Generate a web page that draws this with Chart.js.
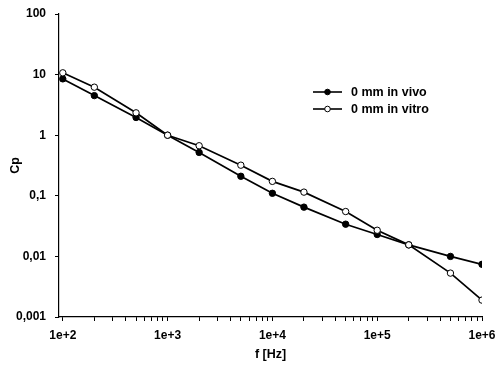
<!DOCTYPE html>
<html>
<head>
<meta charset="utf-8">
<script src="https://cdn.jsdelivr.net/npm/chart.js@4/dist/chart.umd.min.js"></script>
<style>
html,body{margin:0;padding:0;background:#fff;}
#wrap{width:497px;height:366px;position:relative;}
</style>
</head>
<body>
<div id="wrap"><canvas id="c" width="497" height="366"></canvas></div>
<script>
const frequencies = [100, 200, 500, 1000, 2000, 5000, 10000, 20000, 50000, 100000, 200000, 500000, 1000000];
const inVivo  = [8.5, 4.5, 1.96, 1.0, 0.52, 0.21, 0.11, 0.065, 0.034, 0.023, 0.0155, 0.010, 0.0074];
const inVitro = [10.7, 6.2, 2.34, 1.0, 0.67, 0.32, 0.173, 0.115, 0.055, 0.027, 0.0155, 0.0053, 0.0019];
const seriesNames = ['0 mm in vivo', '0 mm in vitro'];
const yTickValues = [0.001, 0.01, 0.1, 1, 10, 100];
const yTickLabels = ['0,001', '0,01', '0,1', '1', '10', '100'];
const xDecades = [100, 1000, 10000, 100000, 1000000];
const xTickLabels = ['1e+2', '1e+3', '1e+4', '1e+5', '1e+6'];

const FONT = '"Liberation Sans", Arial, sans-serif';

function pts(ys){ return frequencies.map((f,i)=>({x:f, y:ys[i]})); }

const xTickValues = [];
xDecades.forEach((d,i)=>{
  if (i === xDecades.length-1) { xTickValues.push(d); return; }
  for (let s=1;s<=9;s++) xTickValues.push(d*s);
});

const legendPlugin = {
  id: 'insideLegend',
  afterDatasetsDraw(chart){
    const ctx = chart.ctx;
    const items = chart.data.datasets;
    const x0 = 313, x1 = 342, tx = 351;
    const ys = [92, 109];
    ctx.save();
    items.forEach((ds) => {
      const y = ys[ds._legendIndex];
      ctx.strokeStyle = '#000';
      ctx.lineWidth = 1.6;
      ctx.beginPath(); ctx.moveTo(x0, y); ctx.lineTo(x1, y); ctx.stroke();
      ctx.beginPath(); ctx.arc((x0+x1)/2, y, 2.8, 0, Math.PI*2);
      ctx.fillStyle = ds.pointBackgroundColor; ctx.fill();
      ctx.lineWidth = 1; ctx.stroke();
      ctx.fillStyle = '#000';
      ctx.font = 'bold 12.5px ' + FONT;
      ctx.textBaseline = 'middle';
      ctx.textAlign = 'left';
      ctx.fillText(ds.label, tx, y + 0.5);
    });
    ctx.restore();
  }
};

new Chart(document.getElementById('c'), {
  type: 'line',
  data: {
    datasets: [
      {
        label: seriesNames[1], _legendIndex: 1, data: pts(inVitro), order: 1,
        borderColor: '#000', borderWidth: 1.7, pointRadius: 3.2, pointBorderWidth: 1,
        pointBackgroundColor: '#fff', pointBorderColor: '#000', tension: 0
      },
      {
        label: seriesNames[0], _legendIndex: 0, data: pts(inVivo), order: 2,
        borderColor: '#000', borderWidth: 1.7, pointRadius: 3.2, pointBorderWidth: 1,
        pointBackgroundColor: '#000', pointBorderColor: '#000', tension: 0
      }
    ]
  },
  options: {
    responsive: false,
    animation: false,
    devicePixelRatio: 1,
    layout: { padding: { left: 0, right: 15, top: 14, bottom: 0 } },
    plugins: { legend: { display: false }, tooltip: { enabled: false } },
    scales: {
      x: {
        type: 'logarithmic',
        min: 92, max: 1000000,
        afterBuildTicks(scale){ scale.ticks = xTickValues.map(v=>({value:v})); },
        afterFit(scale){ scale.height = 49; scale.paddingLeft = 0; scale.paddingRight = 0; },
        border: { display: true, color: '#000', width: 1.2 },
        grid: {
          display: true, drawOnChartArea: false, drawTicks: true,
          tickLength: 4, tickWidth: 1, tickColor: '#000'
        },
        ticks: {
          autoSkip: false, maxRotation: 0, padding: 7,
          color: '#000', font: { family: FONT, size: 12, weight: 'bold' },
          callback(v){ const i = xDecades.indexOf(v); return i >= 0 ? xTickLabels[i] : ''; }
        },
        title: { display: true, text: 'f [Hz]', color: '#000', font: { family: FONT, size: 12.5, weight: 'bold' }, padding: { top: 0, bottom: 4 } }
      },
      y: {
        type: 'logarithmic',
        min: 0.001, max: 100,
        afterBuildTicks(scale){ scale.ticks = yTickValues.map(v=>({value:v})); },
        afterFit(scale){ scale.width = 59; scale.paddingTop = 0; scale.paddingBottom = 0; },
        border: { display: true, color: '#000', width: 1.2 },
        grid: { display: true, drawOnChartArea: false, drawTicks: true, tickLength: 4, tickColor: '#000' },
        ticks: {
          autoSkip: false, padding: 9,
          color: '#000', font: { family: FONT, size: 12, weight: 'bold' },
          callback(v){ const i = yTickValues.indexOf(v); return i >= 0 ? yTickLabels[i] : ''; }
        },
        title: { display: true, text: 'Cp', color: '#000', font: { family: FONT, size: 12.5, weight: 'bold' }, padding: { top: 8, bottom: 4 } }
      }
    }
  },
  plugins: [legendPlugin]
});
</script>
</body>
</html>
